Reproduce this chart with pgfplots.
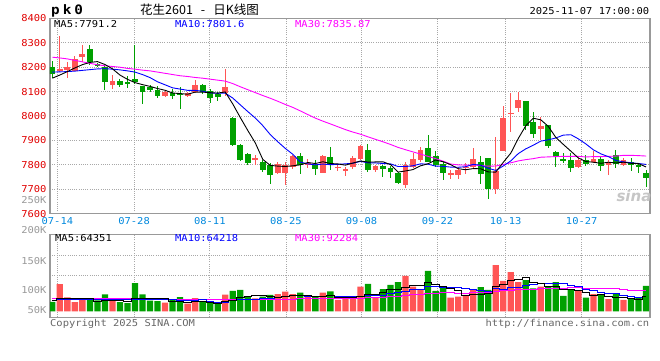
\documentclass[border=0pt]{standalone}
\usepackage{pgfplots}
\pgfplotsset{compat=1.18}
\usepackage{pgfplotstable}
\usepackage{fontspec}
\setmainfont{DejaVu Sans}
\setmonofont{DejaVu Sans Mono}
\newfontfamily\cjk{Noto Sans CJK SC}
\newfontfamily\mono[FakeStretch=1.1]{DejaVu Sans Mono}
\definecolor{candred}{HTML}{FF5555}
\definecolor{candgreen}{HTML}{00A000}
\definecolor{framegray}{HTML}{999999}
\definecolor{gridgray}{HTML}{A8A8A8}
\definecolor{pricered}{HTML}{E00000}
\definecolor{dateblue}{HTML}{0088DD}
\definecolor{volgray}{HTML}{999999}
\definecolor{txtgray}{HTML}{666666}
\definecolor{mablue}{HTML}{0000FF}
\definecolor{mamag}{HTML}{FF00FF}

% up (red) candles: index, open, high, low, close, volume
\pgfplotstableread{
i o h l c v
1 8183 8329 8180 8191 120000
2 8188 8222 8157 8199 61000
3 8185 8245 8183 8232 40000
4 8243 8293 8222 8256 53000
8 8127 8168 8110 8143 50000
15 8084 8107 8077 8097 38000
18 8084 8100 8077 8093 34000
19 8097 8148 8093 8127 58000
23 8093 8193 8084 8118 73000
27 7822 7841 7800 7826 57000
30 7766 7813 7762 7804 76000
31 7766 7811 7718 7800 87000
32 7790 7841 7783 7837 76000
34 7803 7822 7785 7807 65000
36 7768 7841 7766 7837 82000
38 7789 7804 7775 7793 50000
39 7778 7790 7755 7782 62000
40 7793 7837 7783 7827 57000
41 7824 7882 7820 7878 109000
43 7777 7800 7770 7796 62000
47 7718 7811 7704 7800 156000
48 7790 7848 7786 7824 109000
49 7820 7875 7813 7860 98000
53 7762 7779 7743 7766 60000
54 7759 7789 7743 7777 65000
55 7788 7809 7762 7792 72000
56 7790 7868 7783 7823 97000
59 7700 7916 7681 7773 204000
60 7857 8039 7857 7991 134000
61 8009 8093 7936 8013 173000
62 8032 8097 8015 8064 129000
65 7947 7996 7903 7959 109000
70 7790 7827 7786 7820 90000
72 7811 7857 7807 7823 76000
74 7800 7820 7759 7811 54000
76 7800 7830 7797 7820 50000
}\uptab

% down (green) candles
\pgfplotstableread{
i o h l c v
0 8201 8225 8154 8174 42000
5 8274 8293 8210 8220 51000
6 8212 8218 8200 8208 48000
7 8200 8210 8106 8140 75000
9 8143 8153 8117 8128 40000
10 8140 8165 8115 8133 36000
11 8150 8290 8130 8140 124000
12 8122 8125 8048 8099 75000
13 8120 8128 8097 8107 47000
14 8106 8125 8074 8084 45000
16 8093 8112 8068 8084 50000
17 8091 8118 8030 8087 62000
20 8127 8131 8090 8097 42000
21 8103 8111 8052 8073 42000
22 8090 8097 8063 8079 38000
24 7991 7998 7879 7882 90000
25 7882 7885 7816 7820 95000
26 7843 7850 7800 7807 67000
28 7813 7820 7770 7779 65000
29 7800 7807 7722 7759 72000
33 7837 7848 7763 7800 82000
35 7800 7820 7759 7783 62000
37 7831 7871 7777 7800 88000
42 7860 7884 7770 7777 121000
44 7796 7800 7749 7783 98000
45 7786 7796 7745 7770 116000
46 7766 7770 7722 7725 129000
50 7868 7923 7811 7813 178000
51 7837 7857 7793 7800 90000
52 7804 7813 7738 7766 103000
57 7813 7837 7722 7763 107000
58 7827 7827 7661 7700 94000
63 8062 8062 7942 7961 138000
64 7974 8018 7909 7927 101000
66 7963 7965 7870 7876 109000
67 7854 7858 7790 7837 129000
68 7824 7848 7807 7818 68000
69 7820 7848 7770 7789 98000
71 7820 7841 7797 7803 60000
73 7823 7834 7775 7796 76000
75 7841 7861 7789 7804 79000
77 7811 7827 7773 7800 54000
78 7800 7807 7768 7789 60000
79 7766 7779 7708 7745 112000
}\downtab

% moving averages of price and volume
\pgfplotstableread{
i ma5 ma10 ma30 vma5 vma10 vma30
0 8155 8180 8241 50000 47000 55000
1 8168 8181 8238 55000 52000 55000
2 8182 8182 8234 56000 53000 55000
3 8197 8184 8228 56000 53000 55000
4 8210.4 8187 8222 56200 53000 55000
5 8219.6 8190 8216 58000 53000 55000
6 8223.0 8193 8210 43600 52000 55000
7 8211.2 8194 8206 46400 52000 55000
8 8193.4 8192 8203 48400 51000 55000
9 8167.8 8189.1 8200 45800 51000 55000
10 8150.4 8185.0 8195 42800 50400 55000
11 8136.8 8179.9 8192 58000 50800 53000
12 8128.6 8169.9 8188 58000 52200 53000
13 8121.4 8157.4 8185 57400 52900 52000
14 8112.6 8140.2 8180 58400 52100 52000
15 8105.4 8127.9 8175 58800 50800 52000
16 8094.2 8115.5 8170 44000 51000 52000
17 8092.0 8110.3 8165 41400 49700 52000
18 8089.2 8105.3 8162 38800 48100 52000
19 8097.8 8105.2 8158 41400 49900 52000
20 8097.8 8101.6 8155 42200 50500 52000
21 8095.6 8094.9 8151 40600 42300 51000
22 8093.8 8092.9 8147 35800 38600 51000
23 8098.8 8094.0 8143 43600 41200 51000
24 8049.8 8073.8 8133 50000 45700 51000
25 7994.4 8046.1 8120 60600 51400 51000
26 7941.2 8018.4 8108 65600 53100 51000
27 7890.2 7992.0 8096 69400 52600 52000
28 7822.4 7960.6 8084 67800 55700 52000
29 7797.8 7923.8 8072.7 64200 57100 52700
30 7794.6 7894.5 8060.4 60400 60500 53800
31 7793.2 7867.2 8047.3 64400 65000 52700
32 7795.8 7843.0 8035.3 68200 68800 53200
33 7800.0 7811.2 8020.9 71600 69700 54600
34 7809.4 7803.6 8005.9 70200 67200 55000
35 7805.2 7799.9 7991.3 67400 63900 55400
36 7812.6 7802.9 7978.9 66400 65400 56500
37 7805.2 7800.5 7967.6 68800 68500 56900
38 7803.6 7801.8 7955.9 62400 67000 56900
39 7798.6 7804.0 7944.3 61800 66000 57700
40 7807.4 7806.3 7934.1 60800 64100 58400
41 7815.6 7814.1 7925.4 66200 66300 57900
42 7811.0 7808.1 7914.7 72800 70800 59400
43 7811.8 7807.7 7904.3 75200 68800 59900
44 7812.2 7805.4 7894.3 82400 72100 61700
45 7800.8 7804.1 7883.4 94200 77500 64300
46 7770.2 7792.9 7871.4 98200 82200 66900
47 7774.8 7792.9 7861.8 105200 89000 70000
48 7780.4 7796.1 7852.8 114600 94900 72500
49 7795.8 7804.0 7843.9 114600 98500 73900
50 7804.4 7802.6 7834.5 127000 110600 78400
51 7819.4 7794.8 7825.4 119200 108700 80000
52 7812.6 7793.7 7814.9 108600 106900 82200
53 7800.8 7790.6 7803.2 98800 106700 81700
54 7784.2 7790.0 7799.7 92200 103400 80900
55 7779.8 7792.1 7798.7 71000 99000 80100
56 7784.4 7801.9 7799.2 72400 95800 81100
57 7783.8 7798.2 7797.2 73200 90900 82800
58 7770.8 7785.8 7794.6 80000 89400 83800
59 7770.0 7777.1 7795.0 107800 100000 88200
60 7810.0 7794.9 7801.3 120200 95600 90100
61 7847.6 7816.0 7808.3 135400 103900 93000
62 7907.8 7845.8 7815.9 139800 106500 94700
63 7960.0 7865.4 7821.2 148600 114300 96600
64 7990.8 7880.4 7825.3 128000 117900 97800
65 7984.4 7897.2 7831.1 123000 121600 99400
66 7957.4 7902.5 7832.4 110200 122800 100300
67 7912.0 7909.9 7833.7 110200 125000 101600
68 7883.4 7921.7 7834.5 96200 122400 102200
69 7855.8 7923.3 7834.8 95600 111800 103400
70 7828.0 7906.2 7834.6 91800 107400 104500
71 7813.4 7885.4 7832.1 82000 96100 102900
72 7810.6 7861.3 7833.6 71400 90800 101400
73 7806.2 7844.8 7833.6 73000 84600 101900
74 7810.6 7833.2 7834.5 64200 79900 100400
75 7807.4 7817.7 7835.7 62000 76900 99200
76 7810.8 7812.1 7838.8 60000 71000 96500
77 7806.2 7808.4 7838.8 55600 63500 93100
78 7804.8 7805.5 7837.7 52400 62700 91500
79 7791.2 7801.6 7835.87 64351 64218 92284
}\matab

\pgfplotsset{
  sinaframe/.style={
    scale only axis,
    width=600bp,
    xmin=-0.31, xmax=79.53,
    axis line style={draw=framegray, line width=1.2bp},
    major tick length=0pt,
    tick style={draw=none},
    scaled ticks=false,
    grid=major,
    grid style={draw=gridgray, line width=0.8bp, dash pattern=on 1bp off 1.2bp},
    xtick={0.67,10.88,20.96,31.08,41.14,51.26,60.32,70.44},
  },
  candle/.style 2 args={draw=none, mark=none, forget plot,
    error bars/.cd, y dir=both, y explicit, error mark=none,
    error bar style={draw=#1, line width=#2}},
}

\begin{document}
\begin{tikzpicture}[x=1bp,y=1bp]

% ---------- price panel ----------
\begin{axis}[sinaframe, name=main,
  height=195.2bp,
  ymin=7600, ymax=8400,
  ytick={7600,7700,7800,7900,8000,8100,8200,8300,8400},
  yticklabels={7600,7700,7800,7900,8000,8100,8200,8300,8400},
  yticklabel style={font=\mono\fontsize{9.5bp}{12bp}\selectfont, text=pricered, anchor=east, inner sep=0pt, xshift=-3.3bp},
  xticklabels={07-14,07-28,08-11,08-25,09-08,09-22,10-13,10-27},
  xticklabel style={font=\mono\fontsize{9.5bp}{12bp}\selectfont, text=dateblue, anchor=north, inner sep=0pt, yshift=-3.2bp},
]
% wicks
\addplot[candle={candred}{1bp}]
  table[x=i, y expr={(\thisrow{h}+\thisrow{l})/2}, y error expr={(\thisrow{h}-\thisrow{l})/2}] {\uptab};
\addplot[candle={candgreen}{1bp}]
  table[x=i, y expr={(\thisrow{h}+\thisrow{l})/2}, y error expr={(\thisrow{h}-\thisrow{l})/2}] {\downtab};
% bodies
\addplot[candle={candred}{5.8bp}]
  table[x=i, y expr={(\thisrow{o}+\thisrow{c})/2}, y error expr={abs(\thisrow{c}-\thisrow{o})/2}] {\uptab};
\addplot[candle={candgreen}{5.8bp}]
  table[x=i, y expr={(\thisrow{o}+\thisrow{c})/2}, y error expr={abs(\thisrow{c}-\thisrow{o})/2}] {\downtab};
% moving averages
\addplot[mamag, line width=0.9bp, mark=none] table[x=i, y=ma30] {\matab};
\addplot[mablue, line width=0.9bp, mark=none] table[x=i, y=ma10] {\matab};
\addplot[black, line width=0.9bp, mark=none] table[x=i, y=ma5] {\matab};
\end{axis}

% ---------- volume panel ----------
\begin{axis}[sinaframe,
  at={(main.south west)}, anchor=south west, yshift=-103.7bp,
  height=82.6bp,
  ymin=-26500, ymax=337800,
  ytick={157000,247000}, yticklabels={},
  xticklabels={},
]
\addplot[ybar, bar width=6.3bp, bar shift=0pt, fill=candred, draw=none] table[x=i, y=v] {\uptab};
\addplot[ybar, bar width=6.3bp, bar shift=0pt, fill=candgreen, draw=none] table[x=i, y=v] {\downtab};
\addplot[mamag, line width=0.9bp, mark=none, const plot mark mid] table[x=i, y=vma30] {\matab};
\addplot[mablue, line width=0.9bp, mark=none, const plot mark mid] table[x=i, y=vma10] {\matab};
\addplot[black, line width=0.9bp, mark=none, const plot mark mid] table[x=i, y=vma5] {\matab};
\end{axis}

% ---------- texts (placed relative to the price panel) ----------
\begin{scope}[shift={(main.south west)}]
\begin{scope}[shift={(-50,-146.4)}]
\path (0,0) rectangle (660,360);
\tikzset{mt/.style={font=\mono\fontsize{9.5bp}{12bp}\selectfont, inner sep=0pt}}
% header
\node[anchor=west, inner sep=0pt, font=\mono\bfseries\fontsize{13bp}{14bp}\selectfont] at (51,349.5) {p\kern3bp k\kern3bp 0};
\node[anchor=west, inner sep=0pt, font=\cjk\fontsize{12.5bp}{14bp}\selectfont] at (140,350.3) {花生2601\hspace{8bp}-\hspace{8bp}日K线图};
\node[mt, anchor=east] at (649.3,348.5) {2025-11-07 17:00:00};
% price legend
\node[mt, anchor=west, text=black] at (54,336.3) {MA5:7791.2};
\node[mt, anchor=west, text=mablue] at (175,336.3) {MA10:7801.6};
\node[mt, anchor=west, text=mamag] at (295,336.3) {MA30:7835.87};
% volume legend
\node[mt, anchor=west, text=black] at (55,121.7) {MA5:64351};
\node[mt, anchor=west, text=mablue] at (175,121.7) {MA10:64218};
\node[mt, anchor=west, text=mamag] at (295,121.7) {MA30:92284};
% volume axis labels
\node[mt, anchor=east, text=volgray] at (46.7,160) {250K};
\node[mt, anchor=east, text=volgray] at (46.7,130) {200K};
\node[mt, anchor=east, text=volgray] at (46.7,99) {150K};
\node[mt, anchor=east, text=volgray] at (46.7,69.5) {100K};
\node[mt, anchor=east, text=volgray] at (46.7,50) {50K};
% footer
\node[mt, anchor=west, text=txtgray] at (50,36.5) {Copyright 2025 SINA.COM};
\node[mt, anchor=east, text=txtgray] at (649.3,36.5) {http://finance.sina.com.cn};
% watermark
\node[inner sep=0pt, text=gray!45, font=\bfseries\itshape\fontsize{15bp}{16bp}\selectfont] at (634,164) {sina};
\end{scope}
\end{scope}
\end{tikzpicture}
\end{document}
